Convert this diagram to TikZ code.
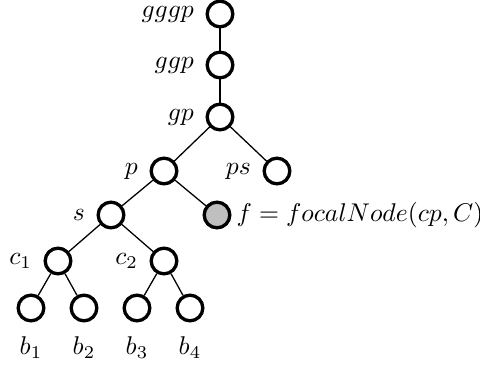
\documentclass[tikz,border=0pt]{standalone}
\usepackage{amsmath,amssymb}
\usepackage{tikz}

\begin{document}
\begin{tikzpicture}[x=0.39pt,y=-0.39pt,
  vertex/.style={circle,draw,line width=1.3pt,fill=white,minimum size=10pt,inner sep=0pt},
  focal/.style={vertex,fill=gray!50},
  every label/.style={label distance=1pt},
  leaf/.style={label={[label distance=2pt]below:$#1$}}]
\useasboundingbox (0,0) rectangle (480,364);
\node[vertex,label=left:$gggp$] (gggp) at (220,14) {};
\node[vertex,label=left:$ggp$] (ggp) at (220,65) {};
\node[vertex,label=left:$gp$] (gp) at (220,117) {};
\node[vertex,label=left:$p$] (p) at (164,171) {};
\node[vertex,label=left:$ps$] (ps) at (277,171) {};
\node[vertex,label=left:$s$] (s) at (111,215) {};
\node[focal,label={[label distance=-1.5pt]right:$f = focalNode(cp,C)$}] (f) at (217,215) {};
\node[vertex,label=left:$c_1$] (c1) at (58,261) {};
\node[vertex,label=left:$c_2$] (c2) at (164,261) {};
\node[vertex,leaf=b_1] (b1) at (31,308) {};
\node[vertex,leaf=b_2] (b2) at (84,308) {};
\node[vertex,leaf=b_3] (b3) at (137,308) {};
\node[vertex,leaf=b_4] (b4) at (190,308) {};
\draw[line width=0.5pt] (gggp)--(ggp)--(gp);
\draw[line width=0.5pt] (gp)--(p) (gp)--(ps);
\draw[line width=0.5pt] (p)--(s) (p)--(f);
\draw[line width=0.5pt] (s)--(c1) (s)--(c2);
\draw[line width=0.5pt] (c1)--(b1) (c1)--(b2) (c2)--(b3) (c2)--(b4);
\end{tikzpicture}
\end{document}
